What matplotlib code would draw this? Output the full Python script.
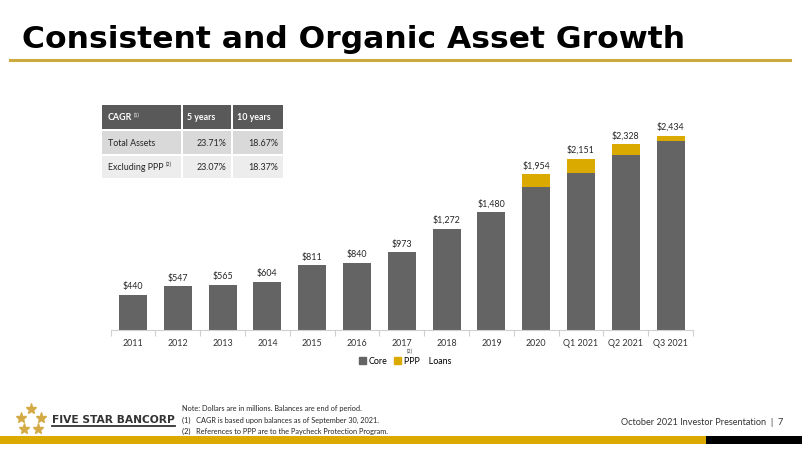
import matplotlib
matplotlib.use("Agg")
import matplotlib.pyplot as plt
from matplotlib.patches import Rectangle, Patch
from matplotlib.lines import Line2D
import numpy as np

# ---------------- data ----------------
categories = ["2011", "2012", "2013", "2014", "2015", "2016", "2017", "2018",
              "2019", "2020", "Q1 2021", "Q2 2021", "Q3 2021"]
totals = [440, 547, 565, 604, 811, 840, 973, 1272, 1480, 1954, 2151, 2328, 2434]
ppp = [0, 0, 0, 0, 0, 0, 0, 0, 0, 154, 184, 133, 67]
core = [t - p for t, p in zip(totals, ppp)]

table_header = ["CAGR", "5 years", "10 years"]
table_rows = ["Total Assets", "Excluding PPP"]
table_5y = ["23.71%", "23.07%"]
table_10y = ["18.67%", "18.37%"]

notes = ["Note: Dollars are in millions. Balances are end of period.",
         "(1)   CAGR is based upon balances as of September 30, 2021.",
         "(2)   References to PPP are to the Paycheck Protection Program."]

W, H = 802, 452
GREY = "#646464"
GOLD = "#DBAA00"
FONT = "Lato"
FS = 6.4

fig = plt.figure(figsize=(W / 100, H / 100), dpi=100)
fig.patch.set_facecolor("white")


def fx(x):
    return x / W


def fy(y):
    return 1 - y / H


# ---------------- title ----------------
fig.text(fx(22), fy(39), "Consistent and Organic Asset Growth", fontsize=22.6,
         fontweight="bold", family="DejaVu Sans", color="black", va="center", ha="left")
fig.add_artist(Line2D([fx(10), fx(790)], [fy(61), fy(61)], color="#CBAA3E", lw=2.2))

# ---------------- chart ----------------
ax = fig.add_axes([fx(110.6), fy(331), (693 - 110.6) / W, (331 - 123.8) / H])
x = np.arange(len(categories))
ax.bar(x, core, width=0.625, color=GREY, zorder=2)
ax.bar(x, ppp, width=0.625, bottom=core, color=GOLD, zorder=2)
for i, t in enumerate(totals):
    ax.annotate(f"${t:,}", (i, t), xytext=(0, 3.5), textcoords="offset points",
                ha="center", va="bottom", fontsize=FS, family=FONT, color="#262626")
ax.set_xlim(-0.5, len(categories) - 0.5)
ax.set_ylim(0, 2600)
for s in ["top", "right", "left"]:
    ax.spines[s].set_visible(False)
ax.spines["bottom"].set_color("#D0D0D0")
ax.spines["bottom"].set_linewidth(0.8)
ax.set_yticks([])
ax.set_xticks(x)
ax.set_xticklabels(categories, fontsize=FS, family=FONT, color="#333333")
ax.tick_params(axis="x", which="major", length=0, pad=5.5)
ax.set_xticks(np.arange(-0.5, len(categories), 1.0), minor=True)
ax.tick_params(axis="x", which="minor", length=4, color="#D0D0D0", width=0.8)
ax.set_facecolor("none")

fig.text(fx(410), fy(351), "(2)", fontsize=4, family=FONT, color="#333333",
         ha="center", va="center")

handles = [Patch(color=GREY), Patch(color=GOLD)]
fig.legend(handles, ["Core", "PPP    Loans"], loc="center", bbox_to_anchor=(fx(405), fy(362)),
           ncol=2, frameon=False, handlelength=0.8, handleheight=0.8,
           handletextpad=0.3, columnspacing=0.7, prop={"family": FONT, "size": FS})

# ---------------- CAGR table ----------------
cols = [(102, 180.5), (182.5, 231), (233, 283)]
rows = [(106, 130), (132, 154.5), (156.5, 179)]
row_colors = ["#595959", "#D9D9D9", "#EDEDED"]
for r, (y0, y1) in enumerate(rows):
    for (x0, x1) in cols:
        fig.add_artist(Rectangle((fx(x0), fy(y1)), (x1 - x0) / W, (y1 - y0) / H,
                                 transform=fig.transFigure, facecolor=row_colors[r],
                                 edgecolor="none"))
hy = (rows[0][0] + rows[0][1]) / 2
fig.text(fx(108), fy(hy), table_header[0], fontsize=FS, family=FONT, fontweight="bold",
         color="white", va="center")
fig.text(fx(133.5), fy(hy - 3), "(1)", fontsize=4, family=FONT, color="white", va="center")
fig.text(fx(187), fy(hy), table_header[1], fontsize=FS, family=FONT, fontweight="bold",
         color="white", va="center")
fig.text(fx(237), fy(hy), table_header[2], fontsize=FS, family=FONT, fontweight="bold",
         color="white", va="center")
for k in range(2):
    yc = (rows[k + 1][0] + rows[k + 1][1]) / 2
    fig.text(fx(108), fy(yc), table_rows[k], fontsize=FS, family=FONT, color="#262626",
             va="center")
    fig.text(fx(226), fy(yc), table_5y[k], fontsize=FS, family=FONT, color="#262626",
             va="center", ha="right")
    fig.text(fx(278), fy(yc), table_10y[k], fontsize=FS, family=FONT, color="#262626",
             va="center", ha="right")
fig.text(fx(166), fy((rows[2][0] + rows[2][1]) / 2 - 3), "(2)", fontsize=4, family=FONT,
         color="#262626", va="center")

# ---------------- footer ----------------
star_pos = [(30.7, 409.5), (20.5, 418.5), (41, 418.5), (24, 430), (37.5, 430)]
for sx, sy in star_pos:
    fig.add_artist(Line2D([fx(sx)], [fy(sy)], marker="*", markersize=8, color="#D4AA45",
                          linestyle="none"))
fig.text(fx(52), fy(420), "FIVE STAR BANCORP", fontsize=7.7, family="DejaVu Sans",
         fontweight="bold", color="#333333", va="center", ha="left")
fig.add_artist(Line2D([fx(52), fx(175)], [fy(426.5), fy(426.5)], color="#333333", lw=1.3))
for k, line in enumerate(notes):
    fig.text(fx(182), fy(409 + k * 11), line, fontsize=5.3, family=FONT, color="#262626",
             va="center", ha="left")
fig.text(fx(783), fy(423), "October 2021 Investor Presentation  |  7", fontsize=6.6,
         family=FONT, color="#333333", va="center", ha="right")
fig.add_artist(Rectangle((0, fy(445)), fx(706), 8 / H, transform=fig.transFigure,
                         facecolor=GOLD, edgecolor="none"))
fig.add_artist(Rectangle((fx(706), fy(445)), fx(W - 706), 8 / H, transform=fig.transFigure,
                         facecolor="black", edgecolor="none"))

fig.savefig("out.png", dpi=100)
